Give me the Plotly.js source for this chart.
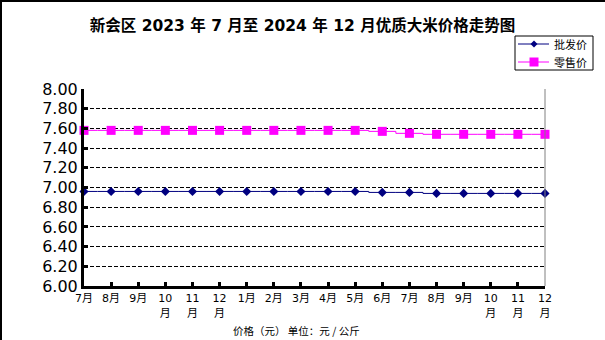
<!DOCTYPE html>
<html><head><meta charset="utf-8">
<script src="https://cdn.plot.ly/plotly-3.0.1.min.js"></script>
<style>html,body{margin:0;padding:0;background:#fff}#c{width:605px;height:340px}</style>
</head><body><div id="c"></div>
<script>
const months = ["7月","8月","9月","10<br>月","11<br>月","12<br>月","1月","2月","3月","4月","5月","6月","7月","8月","9月","10<br>月","11<br>月","12<br>月"];
const wholesale = [6.96,6.96,6.96,6.96,6.96,6.96,6.96,6.96,6.96,6.96,6.96,6.95,6.95,6.94,6.94,6.94,6.94,6.94];
const retail = [7.58,7.58,7.58,7.58,7.58,7.58,7.58,7.58,7.58,7.58,7.58,7.57,7.55,7.54,7.54,7.54,7.54,7.54];
const yTicks = [6.0,6.2,6.4,6.6,6.8,7.0,7.2,7.4,7.6,7.8,8.0];
const seriesNames = ['批发价','零售价'];
const seriesColors = ['#000080','#ff00ff'];
const idx = months.map((m,i)=>i);
const cn = '"Noto Sans CJK SC", "DejaVu Sans", sans-serif';
const L=84,R=60,T=89,B=54,W=605-L-R,H=340-T-B;
const px=x=>(x-L)/W, py=y=>(T+H-y)/H;
const traces = [
 {x:idx,y:wholesale,name:seriesNames[0],mode:'lines+markers',line:{color:seriesColors[0],width:1,shape:'hvh'},marker:{symbol:'diamond',size:7,color:seriesColors[0]},cliponaxis:false},
 {x:idx,y:retail,name:seriesNames[1],mode:'lines+markers',line:{color:seriesColors[1],width:1,shape:'hvh'},marker:{symbol:'square',size:9,color:seriesColors[1]},cliponaxis:false}
];
// custom legend (box + samples + labels)
const legShapes = [
 {type:'rect',xref:'paper',yref:'paper',x0:px(515),x1:px(593),y0:py(36),y1:py(70),line:{color:'#000',width:1},fillcolor:'#fff'},
 {type:'line',xref:'paper',yref:'paper',x0:px(518),x1:px(549),y0:py(44),y1:py(44),line:{color:seriesColors[0],width:1}},
 {type:'path',xref:'paper',yref:'paper',path:`M ${px(534)} ${py(40.5)} L ${px(537.5)} ${py(44)} L ${px(534)} ${py(47.5)} L ${px(530.5)} ${py(44)} Z`,fillcolor:seriesColors[0],line:{color:seriesColors[0],width:0}},
 {type:'line',xref:'paper',yref:'paper',x0:px(518),x1:px(549),y0:py(62),y1:py(62),line:{color:seriesColors[1],width:1}},
 {type:'rect',xref:'paper',yref:'paper',x0:px(529.5),x1:px(538.5),y0:py(57.5),y1:py(66.5),fillcolor:seriesColors[1],line:{color:seriesColors[1],width:0}}
];
const legAnn = seriesNames.map((n,i)=>({text:n,xref:'paper',yref:'paper',x:px(552),y:py(i?62:44),xanchor:'left',yanchor:'middle',showarrow:false,font:{size:11,family:cn,color:'#000'}}));
const layout = {
 width:605,height:340,margin:{l:L,r:R,t:T,b:B},
 paper_bgcolor:'#fff',plot_bgcolor:'#fff',showlegend:false,
 font:{family:cn,color:'#000'},
 title:{text:'<b>新会区 2023 年 7 月至 2024 年 12 月优质大米价格走势图</b>',x:0.5,xanchor:'center',xref:'container',y:0.925,yanchor:'middle',font:{family:'"DejaVu Sans", "Noto Sans CJK SC", sans-serif',size:15.5,color:'#000'}},
 xaxis:{range:[0,17],tickvals:idx,ticktext:months,tickangle:0,ticks:'inside',ticklen:4,tickwidth:3,tickcolor:'#000',showline:true,linecolor:'#000',linewidth:3,showgrid:false,zeroline:false,tickfont:{size:11,family:'"DejaVu Sans", "Noto Sans CJK SC", sans-serif'},fixedrange:true},
 yaxis:{range:[6,8],tickvals:yTicks,ticktext:yTicks.map(v=>v.toFixed(2)),ticks:'inside',ticklen:4,tickwidth:3,tickcolor:'#000',showline:true,linecolor:'#000',linewidth:3,showgrid:true,gridcolor:'#000',gridwidth:1,griddash:'4px,2px',zeroline:false,tickfont:{size:16,family:'"DejaVu Sans", sans-serif'},fixedrange:true},
 annotations:[{text:'价格（元） 单位：元 / 公斤',xref:'paper',yref:'paper',x:px(296),y:py(330),showarrow:false,xanchor:'center',yanchor:'middle',font:{size:10.5,family:cn}}].concat(legAnn),
 shapes:[
  {type:'line',xref:'paper',yref:'paper',x0:1,x1:1,y0:0,y1:1,line:{color:'#808080',width:1}},
  {type:'line',xref:'paper',yref:'paper',x0:px(1),x1:px(1),y0:py(340),y1:py(0),line:{color:'#000',width:2}},
  {type:'line',xref:'paper',yref:'paper',x0:px(0),x1:px(605),y0:py(1),y1:py(1),line:{color:'#000',width:2}}
 ].concat(legShapes)
};
Plotly.newPlot('c',traces,layout,{displayModeBar:false,staticPlot:true});
</script></body></html>
